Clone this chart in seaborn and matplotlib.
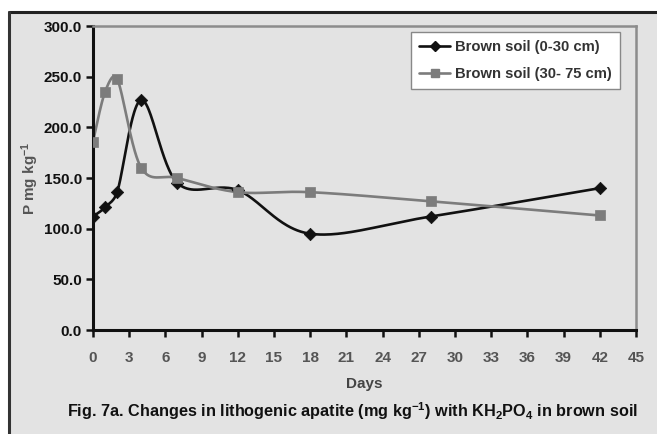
import numpy as np
import pandas as pd
import matplotlib
matplotlib.use("Agg")
import matplotlib.pyplot as plt
from matplotlib.lines import Line2D
import seaborn as sns

days = [0, 1, 2, 4, 7, 12, 18, 28, 42]
brown_0_30 = [112, 121, 136, 227, 145, 138, 95, 112, 140]
brown_30_75 = [186, 235, 248, 160, 150, 136, 136, 127, 113]
series_names = ["Brown soil (0-30 cm)", "Brown soil (30- 75 cm)"]
x_ticks = list(range(0, 46, 3))
y_ticks = [0, 50, 100, 150, 200, 250, 300]

sns.set_theme(style="white")
plt.rcParams['font.family'] = ['Liberation Sans', 'DejaVu Sans']
plt.rcParams['font.weight'] = 'bold'
plt.rcParams['mathtext.fontset'] = 'custom'
plt.rcParams['mathtext.rm'] = 'Liberation Sans:bold'
plt.rcParams['mathtext.bf'] = 'Liberation Sans:bold'
plt.rcParams['mathtext.default'] = 'bf'

BG = "#e3e3e3"
W, H = 657, 434
AX_L, AX_R, AX_T, AX_B = 93, 636, 26, 330
XMAX, YMAX = 45, 300
SX = (AX_R - AX_L) / XMAX
SY = (AX_B - AX_T) / YMAX


def smooth(xs, ys, n=50):
    # Excel-style smoothed line: Bezier segments, tension 1/6, arms capped at half segment (pixel space)
    P = np.column_stack([np.asarray(xs, float) * SX, np.asarray(ys, float) * SY])
    out = []
    m = len(P)
    for i in range(m - 1):
        p0 = P[i - 1] if i > 0 else P[i]
        p1 = P[i]
        p2 = P[i + 1]
        p3 = P[i + 2] if i + 2 < m else P[i + 1]
        seglen = np.linalg.norm(p2 - p1)
        v1 = (p2 - p0) / 6.0
        v2 = (p3 - p1) / 6.0
        for v in (v1, v2):
            L = np.linalg.norm(v)
            if L > seglen / 2 and L > 0:
                v *= (seglen / 2) / L
        c1 = p1 + v1
        c2 = p2 - v2
        t = np.linspace(0, 1, n)[:, None]
        seg = ((1 - t) ** 3) * p1 + 3 * ((1 - t) ** 2) * t * c1 + 3 * (1 - t) * t ** 2 * c2 + t ** 3 * p2
        out.append(seg if i == 0 else seg[1:])
    pts = np.vstack(out)
    return pts[:, 0] / SX, pts[:, 1] / SY


fig = plt.figure(figsize=(W / 100, H / 100), dpi=100)
fig.patch.set_facecolor("white")
fig.patches.append(plt.Rectangle((9 / W, 0), 1 - 9 / W, 1 - 12 / H, transform=fig.transFigure,
                                 facecolor=BG, edgecolor="none", zorder=-5))
fig.lines.append(Line2D([9 / W, 1], [1 - 12 / H, 1 - 12 / H], transform=fig.transFigure,
                        color="#222222", lw=2.2, zorder=-4))
fig.lines.append(Line2D([9 / W, 9 / W], [0, 1 - 12 / H], transform=fig.transFigure,
                        color="#333333", lw=2.2, zorder=-4))

ax = fig.add_axes([AX_L / W, 1 - AX_B / H, (AX_R - AX_L) / W, (AX_B - AX_T) / H])
ax.set_facecolor(BG)

colors = ["#111111", "#7c7c7c"]
markers = ["D", "s"]
msizes = [40, 44]
for vals, name, c, mk, ms in zip([brown_0_30, brown_30_75], series_names, colors, markers, msizes):
    cx, cy = smooth(days, vals)
    cdf = pd.DataFrame({"x": cx, "y": cy})
    sns.lineplot(data=cdf, x="x", y="y", sort=False, estimator=None, color=c, lw=1.9, ax=ax)
    pdf = pd.DataFrame({"Days": days, "P": vals})
    sns.scatterplot(data=pdf, x="Days", y="P", marker=mk, s=ms, color=c, edgecolor=c, linewidth=0.5,
                    ax=ax, zorder=5)

ax.set_xlim(0, XMAX)
ax.set_ylim(0, YMAX)
ax.set_xticks(x_ticks)
ax.set_yticks(y_ticks)
ax.set_yticklabels([f"{v:.1f}" for v in y_ticks], fontsize=11, fontweight="bold", color="#111111")
ax.set_xticklabels([str(v) for v in x_ticks], fontsize=11, fontweight="bold", color="#555555")
ax.tick_params(axis="both", which="major", direction="out", length=5, width=1.8, color="#111111",
               left=True, bottom=True)
ax.tick_params(axis="x", pad=10)
ax.tick_params(axis="y", pad=3)
for side in ["left", "bottom"]:
    ax.spines[side].set_color("#111111")
    ax.spines[side].set_linewidth(2.2)
for side in ["top", "right"]:
    ax.spines[side].set_color("#8c8c8c")
    ax.spines[side].set_linewidth(1.8)

ax.set_xlabel("Days", fontsize=11, fontweight="bold", color="#444444", labelpad=9)
ax.set_ylabel("P mg kg$^{-1}$", fontsize=11, fontweight="bold", color="#555555", labelpad=2)

handles = [Line2D([0], [0], color=c, lw=1.9, marker=mk, markersize=5.5 if mk == "D" else 5.5,
                  markerfacecolor=c, markeredgecolor=c) for c, mk in zip(colors, markers)]
leg = ax.legend(handles, series_names, loc="upper right", bbox_to_anchor=(0.9705, 0.98),
                frameon=True, fancybox=False, framealpha=1, edgecolor="#888888",
                prop={"weight": "bold", "size": 10.6}, handlelength=2.1, handletextpad=0.35,
                borderpad=0.55, labelspacing=0.85, borderaxespad=0)
for t in leg.get_texts():
    t.set_color("#333333")
leg.get_frame().set_linewidth(1.0)

fig.text(352 / W, 1 - 411 / H, "Fig. 7a. Changes in lithogenic apatite (mg kg$^{-1}$) with KH$_{2}$PO$_{4}$ in brown soil",
         ha="center", va="center", fontsize=11.7, fontweight="bold", color="#111111")

fig.savefig("out.png", dpi=100, facecolor=fig.get_facecolor())
